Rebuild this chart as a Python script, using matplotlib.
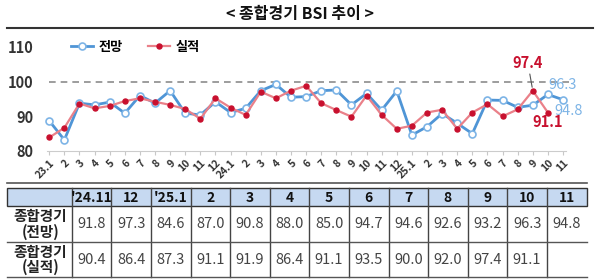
import matplotlib
matplotlib.use('Agg')
import matplotlib.pyplot as plt
from matplotlib.patches import Rectangle

plt.rcParams['font.family'] = ['Liberation Sans Narrow', 'Noto Sans CJK KR', 'DejaVu Sans']

# x labels: 2023.1 ~ 2025.11
months = ['23.1', '2', '3', '4', '5', '6', '7', '8', '9', '10', '11', '12',
          '24.1', '2', '3', '4', '5', '6', '7', '8', '9', '10', '11', '12',
          '25.1', '2', '3', '4', '5', '6', '7', '8', '9', '10', '11']

forecast = [88.7, 83.2, 93.8, 93.3, 94.1, 90.9, 96.0, 93.8, 97.4, 90.9, 90.4, 94.2,
            91.1, 92.3, 97.4, 99.2, 95.5, 95.7, 97.4, 97.6, 93.3, 96.6, 91.8, 97.3,
            84.6, 87.0, 90.8, 88.0, 85.0, 94.7, 94.6, 92.6, 93.2, 96.3, 94.8]

actual = [83.9, 86.7, 93.7, 92.3, 93.0, 94.4, 95.2, 94.2, 93.3, 92.1, 89.3, 95.2,
          92.5, 90.4, 97.1, 95.2, 97.4, 98.8, 93.8, 91.8, 89.9, 96.0, 90.4, 86.4,
          87.3, 91.1, 91.9, 86.4, 91.1, 93.5, 90.0, 92.0, 97.4, 91.1]

tbl_cols = ["'24.11", '12', "'25.1", '2', '3', '4', '5', '6', '7', '8', '9', '10', '11']
row_labels = ['종합경기\n(전망)', '종합경기\n(실적)']
tbl_forecast = forecast[-13:]
tbl_actual = actual[-12:]

BLUE = '#4f95d6'
BLUE_LT = '#7db4e6'
RED_LINE = '#ea8089'
RED = '#c8102e'

fig = plt.figure(figsize=(6, 2.79), dpi=100)

# background layer in pixel coordinates (title, frame lines, table)
bg = fig.add_axes([0, 0, 1, 1])
bg.set_xlim(0, 600)
bg.set_ylim(279, 0)
bg.axis('off')

bg.text(300, 14, '< 종합경기 BSI 추이 >', ha='center', va='center',
        fontsize=11.5, fontweight='bold', color='#111')
bg.plot([7, 593], [28, 28], color='#333', lw=1.5)
bg.plot([7, 587], [182.5, 182.5], color='#555', lw=1.2)

# table
x0, w0, w = 7, 64.7, 39.6
edges = [x0, x0 + w0] + [x0 + w0 + w * (k + 1) for k in range(len(tbl_cols))]
right = edges[-1]
y_head, y_r1, y_r2, y_end = 188, 206, 242, 277

bg.add_patch(Rectangle((x0, y_head), right - x0, y_r1 - y_head,
                       facecolor='#c6d9f1', edgecolor='#333', lw=1))
for e in edges[1:-1]:
    bg.plot([e, e], [y_head, y_end], color='#444', lw=1)
for yy in (y_r2, y_end):
    bg.plot([x0, right], [yy, yy], color='#555', lw=1)

for k, c in enumerate(tbl_cols):
    cx = (edges[k + 1] + edges[k + 2]) / 2
    bg.text(cx, (y_head + y_r1) / 2 + 0.5, c, ha='center', va='center',
            fontsize=10, fontweight='bold', color='#111')
    bg.text(cx, (y_r1 + y_r2) / 2, f'{tbl_forecast[k]:.1f}', ha='center', va='center',
            fontsize=10.5, color='#444')
    if k < len(tbl_actual):
        bg.text(cx, (y_r2 + y_end) / 2, f'{tbl_actual[k]:.1f}', ha='center', va='center',
                fontsize=10.5, color='#444')

for lab, (ya, yb) in zip(row_labels, [(y_r1, y_r2), (y_r2, y_end)]):
    bg.text((edges[0] + edges[1]) / 2 + 1, (ya + yb) / 2, lab, ha='center', va='center',
            fontsize=10.5, fontweight='bold', color='#222', linespacing=0.95)

# line chart
ax = fig.add_axes([47 / 600, 1 - 151 / 279, 519 / 600, 104 / 279])
ax.patch.set_alpha(0)
x = list(range(len(months)))

ax.plot([-0.05, 34.6], [100, 100], ls=(0, (4, 3)), color='#8c8c8c', lw=1.2, clip_on=False)

l1, = ax.plot(x, forecast, color=BLUE, lw=2.0, marker='o', ms=5,
              mfc='white', mec=BLUE_LT, mew=1.2, label='전망', clip_on=False)
l2, = ax.plot(x[:len(actual)], actual, color=RED_LINE, lw=1.6, marker='o', ms=3.6,
              mfc=RED, mec=RED, label='실적', clip_on=False)

ax.set_xlim(-0.15, 34.2)
ax.set_ylim(80, 110)
ax.set_yticks([80, 90, 100, 110])
ax.set_xticks(x)
ax.set_xticklabels(months, rotation=45, ha='right', rotation_mode='anchor',
                   fontsize=7.5, fontweight='bold', color='#333')
for t in ax.get_yticklabels():
    t.set_fontweight('bold')
ax.tick_params(axis='y', length=0, pad=10, labelsize=10.5, labelcolor='#333')
ax.tick_params(axis='x', length=3, color='#c8c8c8', pad=2)
for s in ('top', 'right', 'left'):
    ax.spines[s].set_visible(False)
ax.spines['bottom'].set_color('#cccccc')

ax.legend(handles=[l1, l2], loc='center left', bbox_to_anchor=(64 / 600, 1 - 47 / 279),
          bbox_transform=fig.transFigure, ncol=2, frameon=False, handlelength=1.7,
          columnspacing=1.9, handletextpad=0.4, borderpad=0,
          prop={'weight': 'bold', 'size': 9.5})

# value labels
ax.annotate(f'{actual[32]:.1f}', xy=(32, actual[32]), xytext=(-3.5, 14), textcoords='offset points',
            ha='center', va='bottom', fontsize=10.5, fontweight='bold', color=RED,
            arrowprops=dict(arrowstyle='-', color='#555', lw=0.8, shrinkA=0, shrinkB=2.5))
ax.annotate(f'{actual[33]:.1f}', xy=(33, actual[33]), xytext=(0, -6.5), textcoords='offset points',
            ha='center', va='center', fontsize=10.5, fontweight='bold', color=RED)
ax.annotate(f'{forecast[33]:.1f}', xy=(33, forecast[33]), xytext=(10.5, 6.5), textcoords='offset points',
            ha='center', va='center', fontsize=10.5, color=BLUE_LT)
ax.annotate(f'{forecast[34]:.1f}', xy=(34, forecast[34]), xytext=(4, -8), textcoords='offset points',
            ha='center', va='center', fontsize=10.5, color=BLUE_LT)

fig.savefig('out.png', dpi=100)
